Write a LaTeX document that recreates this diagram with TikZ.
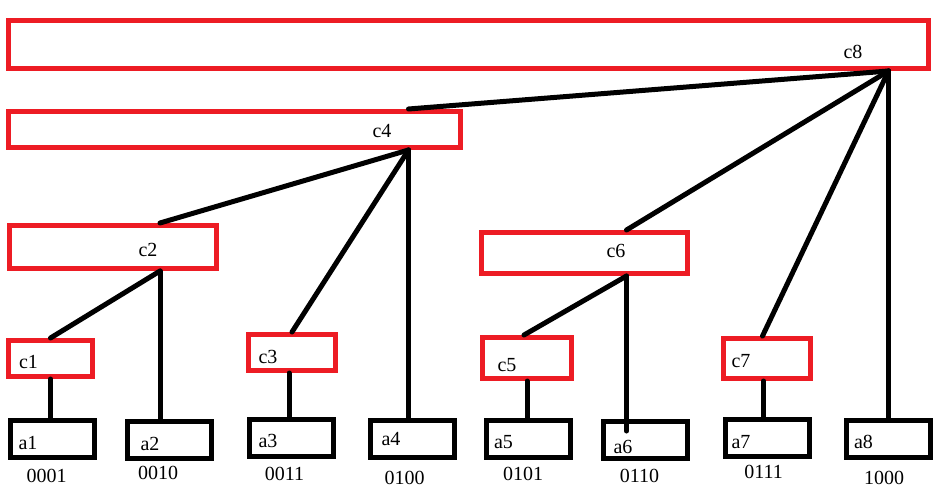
\documentclass[tikz,border=0pt]{standalone}
\usepackage{fontspec}
\setmainfont{Liberation Serif}
\usepackage{xcolor}
\usetikzlibrary{positioning, calc}
\definecolor{paintred}{RGB}{237,28,36}

\begin{document}
\begin{tikzpicture}[
  x=1pt, y=-1pt,
  font=\fontsize{20}{24}\selectfont,
  cbox/.style={draw=paintred, line width=5pt, minimum width=87pt, minimum height=38pt, inner sep=0pt},
  abox/.style={draw=black, line width=5pt, minimum width=84pt, minimum height=37pt, inner sep=0pt},
  link/.style={line width=5pt, line cap=round},
  tag/.style={anchor=base, inner sep=0pt},
]
\useasboundingbox (0,0) rectangle (952,502);

% ============ TOP: c8 and c4 ============
\node[cbox, minimum width=920pt, minimum height=48pt] (c8) at (468.5,44.5) {};
\node[tag] (lc8) at (853,59) {c8};

\node[cbox, minimum width=452pt, minimum height=36pt] (c4) at (234.5,129.5) {};
\node[tag] (lc4) at (382,138) {c4};

% ============ MIDDLE: c2 and c6 ============
\node[cbox, minimum width=207pt, minimum height=43pt] (c2) at (113,247) {};
\node[tag] (lc2) at (148,257) {c2};

\node[cbox, minimum width=206pt, minimum height=41pt] (c6) at (584.5,253) {};
\node[tag] (lc6) at (616,258) {c6};

% ============ LOW: c1, c3, c5, c7 ============
\node[cbox, minimum width=84pt, minimum height=36pt] (c1) at (50.5,358.5) {};
\node[tag] (lc1) at (28.5,368) {c1};
\node[cbox, minimum height=36pt] (c3) at (292,352.5) {};
\node[tag] (lc3) at (268,363) {c3};
\node[cbox, minimum width=89pt, minimum height=41pt] (c5) at (527,358) {};
\node[tag] (lc5) at (507,371) {c5};
\node[cbox, minimum height=40pt] (c7) at (766.5,358.5) {};
\node[tag] (lc7) at (741,367) {c7};

% ============ BOTTOM: a1 ... a8 ============
\node[abox] (a1) at (52.5,439) {};   \node[tag] (la1) at (28,449)    {a1};
\node[abox] (a2) at (169,440) {};    \node[tag] (la2) at (150,450)   {a2};
\node[abox] (a3) at (291.5,438) {};  \node[tag] (la3) at (268,447)   {a3};
\node[abox] (a4) at (412.5,439) {};  \node[tag] (la4) at (391,445)   {a4};
\node[abox] (a5) at (528.5,438.5) {};\node[tag] (la5) at (503.5,448) {a5};
\node[abox] (a6) at (645.5,440) {};  \node[tag] (la6) at (623,453)   {a6};
\node[abox] (a7) at (767.5,438) {};  \node[tag] (la7) at (741,448)   {a7};
\node[abox] (a8) at (888.5,439) {};  \node[tag] (la8) at (863.5,448) {a8};

\node[tag] (b1) at (46.5,482)  {0001};
\node[tag] (b2) at (158,479)   {0010};
\node[tag] (b3) at (284.5,480) {0011};
\node[tag] (b4) at (404.5,484) {0100};
\node[tag] (b5) at (523,480)   {0101};
\node[tag] (b6) at (639.5,482) {0110};
\node[tag] (b7) at (763.5,478) {0111};
\node[tag] (b8) at (884,484)   {1000};

% ============ LINKS ============
\coordinate (c8j) at (c8.south -| a8.north);
\coordinate (c4j) at ($(c4.south -| a4.north)+(-4,0)$);
\coordinate (c2j) at ($(c2.south)+(47,0)$);
\coordinate (c6j) at ($(c6.south)+(42,0)$);

\draw[link] (c8j) -- (c4.north -| c4j);
\draw[link] (c8j) -- (c6.north -| c6j);
\draw[link] (c8j) -- ($(c7.north)+(-4,0)$);
\draw[link] (c8j) -- (a8.north);

\draw[link] (c4j) -- (c2.north -| c2j);
\draw[link] (c4j) -- (c3.north);
\draw[link] (c4j) -- (c4j |- a4.north);

\draw[link] (c2j) -- (c1.north);
\draw[link] (c2j) -- (c2j |- a2.north);

\draw[link] (c6j) -- ($(c5.north)+(-3,0)$);
\draw[link] (c6j) -- ($(c6j |- a6.north)+(0,12)$);

\draw[link] (c1.south) -- (c1.south |- a1.north);
\draw[link] ($(c3.south)+(-3,0)$) -- ($(c3.south |- a3.north)+(-3,0)$);
\draw[link] (c5.south) -- (c5.south |- a5.north);
\draw[link] ($(c7.south)+(-3,0)$) -- ($(c7.south |- a7.north)+(-3,0)$);

\end{tikzpicture}
\end{document}
